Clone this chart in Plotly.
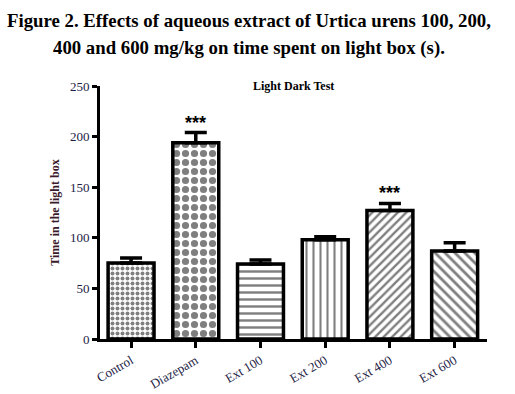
import plotly.graph_objects as go

categories = ["Control", "Diazepam", "Ext 100", "Ext 200", "Ext 400", "Ext 600"]
means = [75, 194, 74, 98, 127, 87]
sem = [5, 10, 4, 3, 7, 8]
significance = ["", "***", "", "", "***", ""]
y_ticks = [0, 50, 100, 150, 200, 250]

title_lines = ["Figure 2. Effects of aqueous extract of Urtica urens 100, 200,",
               "400 and 600 mg/kg on time spent on light box (s)."]
chart_title = "Light Dark Test"
y_title = "Time in the light box"

patterns = [
    dict(shape=".", size=5, solidity=0.5),
    dict(shape=".", size=9, solidity=0.5),
    dict(shape="-", size=7, solidity=0.35),
    dict(shape="|", size=7, solidity=0.3),
    dict(shape="/", size=6, solidity=0.4),
    dict(shape="\\", size=7, solidity=0.4),
]

serif = "Liberation Serif"

fig = go.Figure()
for i, c in enumerate(categories):
    p = patterns[i]
    fig.add_trace(go.Bar(
        x=[c], y=[means[i]],
        width=0.71,
        marker=dict(
            color="white",
            line=dict(color="black", width=3.5),
            pattern=dict(shape=p["shape"], size=p["size"], solidity=p["solidity"],
                         fgcolor="black", bgcolor="white", fillmode="overlay"),
        ),
        error_y=dict(type="data", symmetric=False, array=[sem[i]], arrayminus=[0],
                     color="black", thickness=3.5, width=11),
        showlegend=False,
    ))

for i, c in enumerate(categories):
    if significance[i]:
        fig.add_annotation(x=c, y=means[i] + sem[i], text="<b>" + significance[i] + "</b>",
                           showarrow=False, yanchor="bottom", yshift=-2,
                           font=dict(family="Arial", size=18, color="black"))

fig.add_annotation(xref="paper", yref="paper", x=0.5, y=1.0, yshift=0,
                   text="<b>" + chart_title + "</b>", showarrow=False,
                   font=dict(family=serif, size=12, color="black"), yanchor="middle")

# figure caption lines (positioned in pixels above the plot area)
for k, line in enumerate(title_lines):
    fig.add_annotation(xref="paper", yref="paper", x=(249 - 100) / 387, y=1.0,
                       yanchor="middle", yshift=(86 - 20) - k * 28,
                       text="<b>" + line + "</b>", showarrow=False,
                       font=dict(family=serif, size=18.8, color="black"))

fig.update_layout(
    width=515, height=394,
    margin=dict(l=100, r=28, t=86, b=55),
    paper_bgcolor="white", plot_bgcolor="white",
    bargap=0.29,
    xaxis=dict(
        range=[-0.48, 5.5], showline=True, linecolor="black", linewidth=3,
        ticks="outside", ticklen=6, tickwidth=3, tickcolor="black",
        tickangle=-30, showgrid=False, zeroline=False, automargin=False,
        tickfont=dict(family=serif, size=13, color="#1c1c44"),
    ),
    yaxis=dict(
        range=[0, 250], tickvals=y_ticks, showline=True, linecolor="black", linewidth=3,
        ticks="outside", ticklen=5, tickwidth=3, tickcolor="black",
        showgrid=False, zeroline=False, automargin=False,
        tickfont=dict(family=serif, size=13, color="#1c1c44"),
        title=dict(text="<b>" + y_title + "</b>", standoff=8,
                   font=dict(family=serif, size=12, color="#3a1a2a")),
    ),
)

fig.write_html("out.html", config={"displayModeBar": False},
               post_script="document.body.style.margin='0';")
